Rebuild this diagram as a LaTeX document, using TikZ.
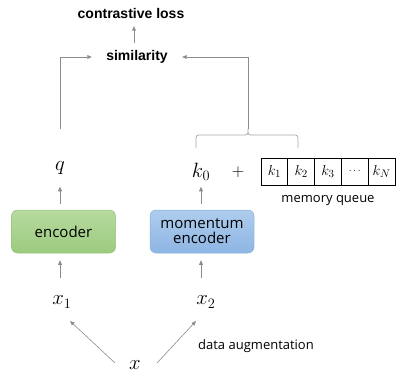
\documentclass[tikz,border=0pt]{standalone}
\usepackage{fontspec}
\setmainfont{Liberation Sans}
\newfontfamily\txtfont{Open Sans}
\usetikzlibrary{arrows.meta,calc}
\definecolor{arrgray}{HTML}{8C8C8C}
\definecolor{bracegray}{HTML}{A6A6A6}
\definecolor{gtop}{HTML}{B7DA9F}
\definecolor{gbot}{HTML}{9BCB7D}
\definecolor{gline}{HTML}{93C47A}
\definecolor{btop}{HTML}{AECDEE}
\definecolor{bbot}{HTML}{8EB5E3}
\definecolor{bline}{HTML}{8AB0DD}
\begin{document}
\begin{tikzpicture}[x=1pt,y=-1pt,
  arr/.style={draw=arrgray, line width=0.6pt, -{Triangle[length=4.5pt,width=3.8pt]}},
  mth/.style={font=\fontsize{21}{23}\selectfont, inner sep=0pt},
  box/.style={rounded corners=6pt, minimum width=104pt, minimum height=43pt, align=center,
    inner sep=0pt, font=\txtfont\fontsize{15}{17}\selectfont, line width=0.5pt},
  cell/.style={draw=black, line width=0.7pt, minimum width=26.8pt, minimum height=27pt,
    inner sep=0pt, font=\fontsize{15}{17}\selectfont},
  lbl/.style={font=\bfseries\fontsize{14}{16}\selectfont, inner sep=0pt},
  small/.style={font=\txtfont\fontsize{13}{15}\selectfont, inner sep=0pt}]
\useasboundingbox (0,0) rectangle (398,374);

% top labels
\node[lbl, minimum height=26pt] (loss) at (131,13) {contrastive loss};
\node[lbl, minimum width=90pt, minimum height=28pt] (sim) at (137,57) {similarity};

% encoders
\node[box, top color=gtop, bottom color=gbot, draw=gline] (enc) at (63.5,231.5) {encoder};
\node[box, top color=btop, bottom color=bbot, draw=bline] (menc) at (202,231.5) {momentum\\[-2pt]encoder};

% outputs
\node[mth] (q) at (60,168) {$q$};
\node[mth] (k0) at (201,172) {$k_0$};
\node[font=\fontsize{18}{20}\selectfont, inner sep=0pt] (plus) at (238,172) {$+$};

% memory queue
\node[cell] (c1) at (274.4,171.5) {$k_1$};
\node[cell] (c2) at (301.2,171.5) {$k_2$};
\node[cell] (c3) at (328.0,171.5) {$k_3$};
\node[cell, font=\fontsize{10}{12}\selectfont] (c4) at (354.8,171.5) {$\cdots$};
\node[cell] (c5) at (381.6,171.5) {$k_N$};
\node[small] (mq) at (328,201) {memory queue};

% inputs
\node[mth] (x1) at (62,302) {$x_1$};
\node[mth] (x2) at (206,302) {$x_2$};
\node[mth] (x) at (135,365) {$x$};
\node[small] (aug) at (256,346) {data augmentation};

% brace over k0 and queue
\coordinate (bt) at (248,129);
\draw[bracegray, line width=0.7pt]
  (196,148) -- (196,141) .. controls (196,135) .. (202,135) -- (242,135)
  .. controls (248,135) .. (bt) .. controls (248,135) .. (254,135) -- (292,135)
  .. controls (298,135) .. (298,141) -- (298,148);

% connectors
\draw[arr] ([xshift=-3pt]sim.north) -- ([xshift=3pt]loss.south);
\draw[arr] ([yshift=32pt]q.north) |- (sim.west);
\draw[arr] (bt) |- (sim.east);
\draw[arr] ([yshift=6pt]enc.north -| q) -- ++(0,-17);
\draw[arr] ([yshift=6pt]menc.north -| k0) -- ++(0,-17);
\draw[arr] ([yshift=-25pt]enc.south -| q) -- ([yshift=-7pt]enc.south -| q);
\draw[arr] ([yshift=-25pt]menc.south -| k0) -- ([yshift=-7pt]menc.south -| k0);
\draw[arr] ([xshift=-20pt,yshift=2pt]x.center) -- ([xshift=8pt,yshift=-19pt]x1.center);
\draw[arr] ([xshift=22pt,yshift=2pt]x.center) -- ([xshift=-10pt,yshift=-19pt]x2.center);
\end{tikzpicture}
\end{document}
